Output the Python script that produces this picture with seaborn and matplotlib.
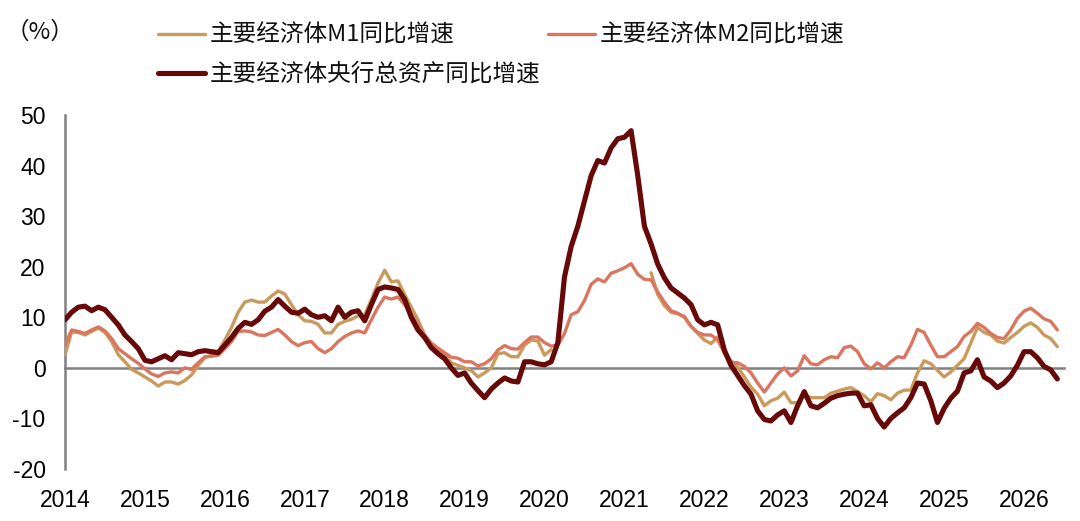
import numpy as np
import pandas as pd
import seaborn as sns
import matplotlib.pyplot as plt
from matplotlib.lines import Line2D

# Monthly data, Jan 2014 onwards (%, YoY)
start_year = 2014
m1 = [2.6, 7.1, 7.0, 6.5, 7.2, 7.9, 7.0, 5.2, 2.6, 1.2, -0.3, -1.0,
      -1.8, -2.6, -3.6, -2.8, -2.8, -3.2, -2.5, -1.4, 0.5, 2.0, 2.5, 3.2,
      5.5, 8.0, 11.0, 13.0, 13.4, 13.0, 13.0, 14.2, 15.2, 14.6, 12.5, 10.5,
      9.3, 9.2, 8.6, 6.9, 6.9, 8.6, 9.2, 9.6, 10.3, 10.5, 13.5, 16.8,
      19.3, 17.0, 17.2, 14.5, 12.0, 9.5, 6.5, 4.5, 3.4, 2.5, 1.0, 0.5,
      0.0, -0.5, -1.8, -1.0, 0.0, 2.8, 3.0, 2.2, 2.2, 4.5, 5.5, 5.3,
      2.5, 3.6, None, None, None, None, None, None, None, None, None, None,
      None, None, None, None, 18.8, 14.5, 12.3, 11.0, 10.7, 10.2, 8.2, 6.8,
      5.5, 4.8, 6.1, 3.0, 1.4, 0.2, -1.8, -3.8, -5.2, -7.5, -6.5, -6.0,
      -4.8, -6.9, -6.9, -5.3, -5.9, -5.9, -5.9, -5.0, -4.6, -4.2, -3.9, -4.7,
      -5.5, -6.7, -5.1, -5.5, -6.3, -5.0, -4.4, -4.4, -1.0, 1.4, 0.8, -0.5,
      -1.8, -0.8, 0.5, 1.8, 4.9, 8.0, 7.0, 6.5, 5.3, 4.9, 6.0, 7.0,
      8.2, 8.9, 8.0, 6.5, 5.8, 4.2]
m2 = [4.5, 7.5, 7.2, 6.8, 7.5, 8.1, 7.3, 5.8, 3.8, 2.8, 1.8, 0.9,
      -0.2, -1.2, -1.7, -1.0, -0.8, -1.0, 0.0, -0.3, 1.0, 2.2, 2.3, 2.5,
      3.8, 5.2, 7.2, 7.3, 7.1, 6.5, 6.4, 7.0, 7.6, 6.5, 5.2, 4.4,
      5.0, 5.2, 3.8, 3.0, 3.8, 5.2, 6.2, 6.9, 7.3, 6.9, 9.5, 12.0,
      14.0, 13.6, 14.0, 12.5, 10.5, 8.5, 6.5, 4.9, 3.9, 3.0, 2.1, 1.9,
      1.2, 1.2, 0.4, 0.8, 1.8, 3.5, 4.4, 3.8, 3.7, 5.0, 6.1, 6.1,
      5.0, 4.3, 4.5, 6.8, 10.5, 11.1, 13.3, 16.5, 17.6, 17.0, 18.7, 19.2,
      19.8, 20.6, 18.5, 17.5, 17.4, 15.0, 13.0, 11.3, 10.8, 10.0, 8.2, 7.0,
      6.5, 6.5, 5.5, 3.0, 1.1, 1.0, 0.3, -1.0, -3.0, -4.8, -3.0, -1.2,
      0.0, -1.6, -0.6, 2.4, 0.8, 0.6, 1.6, 2.2, 2.0, 4.0, 4.3, 3.2,
      0.8, -0.2, 1.0, 0.0, 1.2, 2.2, 2.0, 4.5, 7.6, 7.0, 4.5, 2.2,
      2.2, 3.2, 4.2, 6.2, 7.2, 8.8, 8.0, 6.8, 6.0, 5.8, 7.5, 9.8,
      11.2, 11.8, 10.8, 9.7, 9.2, 7.5]
cb = [9.5, 11.0, 12.0, 12.2, 11.3, 12.0, 11.5, 10.0, 8.5, 6.5, 5.2, 3.8,
      1.5, 1.2, 1.8, 2.4, 1.6, 3.0, 2.8, 2.6, 3.2, 3.4, 3.2, 3.0,
      4.5, 6.0, 7.8, 9.0, 8.6, 9.5, 11.2, 12.0, 13.5, 12.2, 11.0, 10.8,
      11.6, 10.5, 10.0, 10.3, 9.3, 12.0, 10.0, 11.0, 11.3, 9.3, 12.5, 15.5,
      16.0, 15.8, 15.5, 13.5, 10.0, 7.5, 6.0, 4.0, 2.8, 1.8, 0.0, -1.5,
      -1.0, -3.0, -4.5, -5.9, -4.2, -3.0, -2.0, -2.6, -2.8, 1.2, 1.2, 0.8,
      0.6, 1.2, 5.0, 18.0, 24.0, 28.0, 33.0, 38.0, 41.0, 40.5, 43.5, 45.3,
      45.6, 46.9, 38.0, 28.0, 24.5, 20.5, 17.8, 15.8, 14.8, 13.8, 12.5, 9.5,
      8.5, 9.0, 8.5, 3.5, 0.5, -1.5, -3.5, -5.2, -8.5, -10.2, -10.5, -9.3,
      -8.5, -10.8, -7.5, -4.7, -7.5, -7.9, -7.0, -6.0, -5.5, -5.2, -5.0, -5.0,
      -7.5, -7.3, -10.0, -11.7, -10.0, -8.9, -7.9, -5.9, -3.0, -3.2, -6.5, -10.8,
      -8.0, -6.0, -4.6, -1.0, -0.6, 1.6, -1.8, -2.6, -3.9, -3.0, -1.6, 0.5,
      3.2, 3.2, 2.0, 0.3, -0.4, -2.2]
years = list(range(2014, 2027))

labels = ['主要经济体M1同比增速', '主要经济体M2同比增速', '主要经济体央行总资产同比增速']
colors = ['#C99A5B', '#DA7660', '#670909']
widths = [2.4, 2.4, 3.7]

df = pd.DataFrame({'t': start_year + np.arange(len(cb)) / 12,
                   'M1': pd.to_numeric(pd.Series(m1), errors='coerce'),
                   'M2': m2, 'CB': cb})
# M1 has a gap: split it into separate runs so the line is not bridged
df['seg'] = df['M1'].isna().cumsum()

sns.set_style('white')
plt.rcParams['font.family'] = ['Liberation Sans', 'Noto Sans CJK SC']
plt.rcParams['axes.unicode_minus'] = False

fig = plt.figure(figsize=(10.8, 5.21), dpi=100)
ax = fig.add_axes([65 / 1080, 52 / 521, 999 / 1080, 354 / 521])

sns.lineplot(data=df.dropna(subset=['M1']), x='t', y='M1', units='seg', estimator=None,
             color=colors[0], lw=widths[0], ax=ax, legend=False, zorder=3)
sns.lineplot(data=df, x='t', y='M2', color=colors[1], lw=widths[1], ax=ax, legend=False, zorder=3)
sns.lineplot(data=df, x='t', y='CB', color=colors[2], lw=widths[2], ax=ax, legend=False, zorder=4)

ax.set_xlim(2014, 2026.5)
ax.set_ylim(-20, 50)
ax.set_yticks(range(-20, 51, 10))
ax.set_xticks(years)
ax.set_xticklabels([str(y) for y in years])
ax.set_xlabel('')
ax.set_ylabel('')

for s in ['top', 'right']:
    ax.spines[s].set_visible(False)
ax.spines['bottom'].set_position(('data', 0))
for s in ['bottom', 'left']:
    ax.spines[s].set_color('#808080')
    ax.spines[s].set_linewidth(1.8)
ax.tick_params(axis='x', direction='in', length=5, width=1.5, color='#808080',
               pad=87, labelsize=16.5, labelcolor='black')
ax.tick_params(axis='y', direction='in', length=5, width=1.5, color='#808080',
               pad=14, labelsize=16.5, labelcolor='black')

# Legend (column-wise fill: M1, CB in first column, M2 in second)
handles = [Line2D([], [], color=colors[i], lw=widths[i]) for i in range(3)]
order = [0, 2, 1]
fig.legend([handles[i] for i in order], [labels[i] for i in order],
           loc='upper left', bbox_to_anchor=(158 / 1080, 1 - 24 / 521), ncol=2,
           frameon=False, prop={'family': 'Noto Sans CJK SC', 'size': 17},
           handlelength=2.0, handletextpad=0.2, columnspacing=0.3,
           borderpad=0, borderaxespad=0, labelspacing=0.68, labelcolor='#111111')

fig.text(40 / 1080, 1 - 32 / 521, '（%）', ha='center', va='center', fontsize=17,
         family='Noto Sans CJK SC', color='#111111')

fig.savefig('out.png', dpi=100)
